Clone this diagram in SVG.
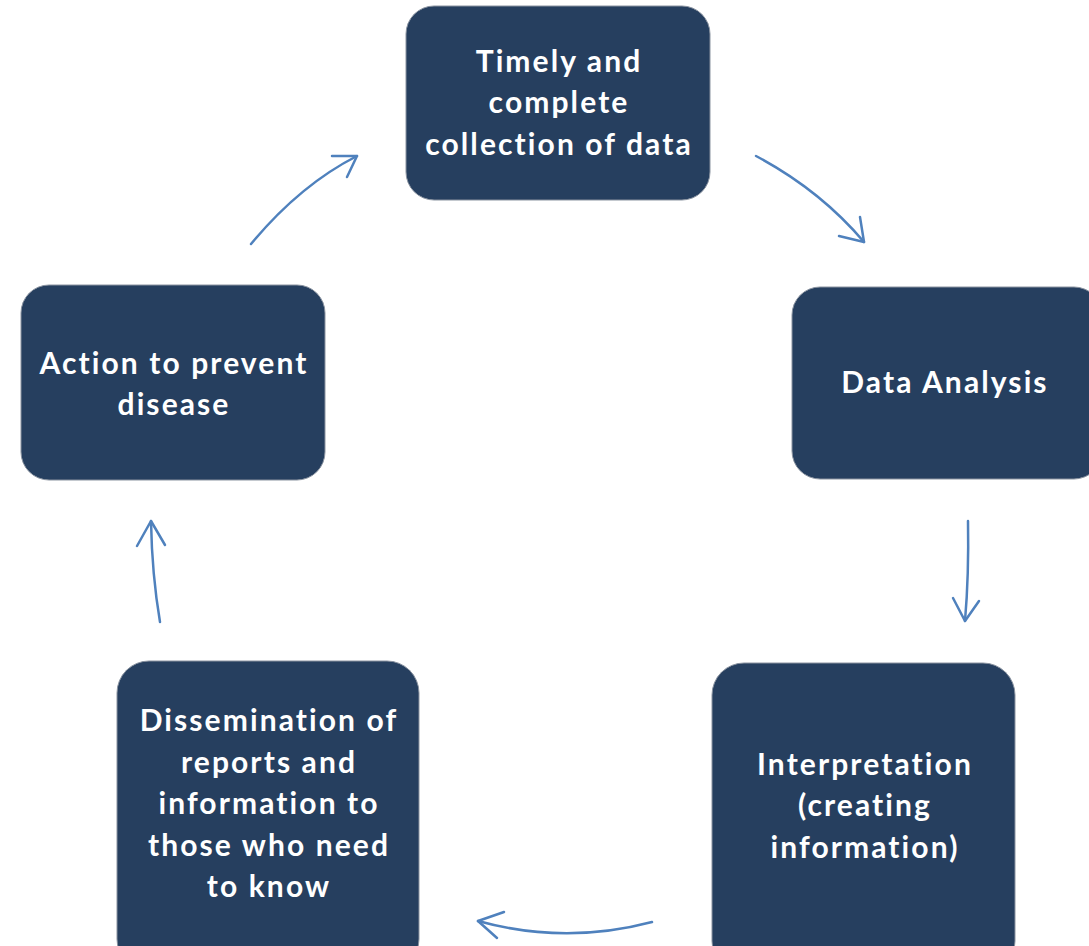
<svg xmlns="http://www.w3.org/2000/svg" width="1089" height="946" viewBox="0 0 1089 946">
<defs>
<style>
.box{fill:#263F5F;stroke:#8A93A0;stroke-width:1}
.t{fill:#FFFFFF;font-family:Lato,"Noto Sans",sans-serif;font-size:30px;font-weight:bold;letter-spacing:2.1px;text-anchor:middle}
.c{fill:none;stroke:#4F81BD;stroke-width:2.5;stroke-linecap:round;stroke-linejoin:round}
</style>
</defs>
<rect width="1089" height="946" fill="#FFFFFF"/>
<g id="node-collection">
<rect class="box" x="406" y="6" width="304" height="194" rx="28"/>
<text class="t" x="559" y="72">Timely and</text>
<text class="t" x="559" y="113">complete</text>
<text class="t" x="559" y="155">collection of data</text>
</g>
<g id="node-analysis">
<rect class="box" x="792" y="287" width="310" height="192" rx="28"/>
<text class="t" x="945" y="393">Data Analysis</text>
</g>
<g id="node-interpretation">
<rect class="box" x="712" y="663" width="303" height="310" rx="32"/>
<text class="t" x="865" y="775">Interpretation</text>
<text class="t" x="865" y="816">(creating</text>
<text class="t" x="865" y="858">information)</text>
</g>
<g id="node-dissemination">
<rect class="box" x="117" y="661" width="302" height="310" rx="32"/>
<text class="t" x="269" y="731">Dissemination of</text>
<text class="t" x="269" y="773">reports and</text>
<text class="t" x="269" y="814">information to</text>
<text class="t" x="269" y="856">those who need</text>
<text class="t" x="269" y="897">to know</text>
</g>
<g id="node-action">
<rect class="box" x="21" y="285" width="304" height="195" rx="28"/>
<text class="t" x="174" y="374">Action to prevent</text>
<text class="t" x="174" y="415">disease</text>
</g>
<g id="connectors">
<path class="c" d="M251,244 Q300,185 357,156"/>
<path class="c" d="M332,156 L357,156 L347,177"/>
<path class="c" d="M756,156 Q820,190 864,242"/>
<path class="c" d="M860,217 L864,242 L839,236"/>
<path class="c" d="M968,521 Q969,575 965,621"/>
<path class="c" d="M953,598 L965,621 L979,601"/>
<path class="c" d="M160,622 Q152,575 151,521"/>
<path class="c" d="M137,546 L151,521 L165,545"/>
<path class="c" d="M652,922 Q565,945 478,921"/>
<path class="c" d="M504,912 L478,921 L497,938"/>
</g>
</svg>
